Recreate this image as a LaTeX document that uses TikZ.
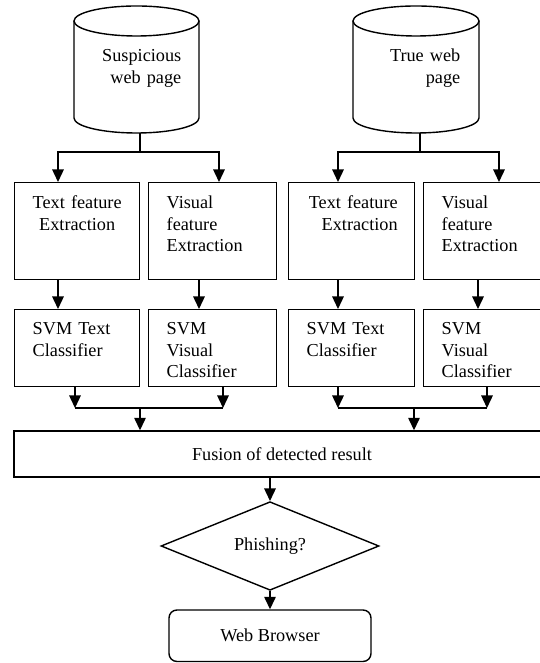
\documentclass[tikz,border=0pt]{standalone}
\usepackage{fontspec}
\setmainfont{Liberation Serif}
\usetikzlibrary{arrows.meta,shapes.geometric,calc}

\tikzset{
	box/.style={draw, anchor=north west, inner ysep=0pt},
	rowone/.style={text height=26pt, text depth=71pt},
	rowtwo/.style={text height=25pt, text depth=52pt},
	dbtext/.style={anchor=base east, inner sep=0pt, text width=110pt, align=right},
	decision/.style={diamond, draw, minimum width=218pt, minimum height=72pt, inner sep=0pt},
	terminal/.style={rectangle, draw, rounded corners=8pt, minimum width=202pt, minimum height=51.5pt},
	arr/.style={-{Triangle[width=11.5pt,length=12.5pt]}},
}

\begin{document}
\begin{tikzpicture}[x=1pt, y=1pt, line width=1.4pt, font=\fontsize{18.25pt}{21.5pt}\selectfont]
		\useasboundingbox (0,0) rectangle (539,663);
		%Databases
		\draw (136.5,642) ellipse [x radius=62.5, y radius=15];
		\draw (74,642) -- (74,545) arc[start angle=180, end angle=360, x radius=62.5, y radius=15] -- (199,642);
		\draw (416,642) ellipse [x radius=63, y radius=15];
		\draw (353,642) -- (353,545) arc[start angle=180, end angle=360, x radius=63, y radius=15] -- (479,642);
		\node[dbtext] (susp) at (182,601) {Suspicious\\web page};
		\node[dbtext] (true) at (461,601) {True web\\page};
		\coordinate (suspout) at (140,530);
		\coordinate (suspfork) at (140,511);
		\coordinate (trueout) at (420,530);
		\coordinate (truefork) at (420,511);
		%Feature extraction
		\node[box, rowone, inner xsep=5pt, text width=115pt, align=center] (textex1) at (14,481) {Text feature\\Extraction};
		\node[box, rowone, inner xsep=18pt, text width=92pt, align=left] (visex1) at (148,481) {Visual\\feature\\Extraction};
		\node[box, rowone, inner xsep=17pt, text width=92pt, align=right] (textex2) at (288,481) {Text feature\\Extraction};
		\node[box, rowone, inner xsep=18pt, text width=84pt, align=left] (visex2) at (423,481) {Visual\\feature\\Extraction};
		%Classifiers
		\node[box, rowtwo, inner xsep=18pt, text width=89pt, align=left] (textsvm1) at (14,354) {SVM Text\\Classifier};
		\node[box, rowtwo, inner xsep=18pt, text width=92pt, align=left] (vissvm1) at (148,354) {SVM\\Visual\\Classifier};
		\node[box, rowtwo, inner xsep=18pt, text width=90pt, align=left] (textsvm2) at (288,354) {SVM Text\\Classifier};
		\node[box, rowtwo, inner xsep=18pt, text width=84pt, align=left] (vissvm2) at (423,354) {SVM\\Visual\\Classifier};
		%Fusion and decision
		\node[draw, minimum width=536pt, minimum height=46pt] (fusion) at (282,209) {Fusion of detected result};
		\node[decision] (phish) at (270,117) {Phishing?};
		\node[terminal] (browser) at (270,27.25) {Web Browser};
		\coordinate (ljoinl) at (75,255);
		\coordinate (ljoinr) at (223,255);
		\coordinate (lmerge) at (140,255);
		\coordinate (rjoinl) at (338,255);
		\coordinate (rjoinr) at (487,255);
		\coordinate (rmerge) at (414,255);
		%Arrows
		\draw (suspout) -- (suspfork);
		\draw[arr] (suspfork) -| ([xshift=44pt]textex1.north west);
		\draw[arr] (suspfork) -| ([xshift=71pt]visex1.north west);
		\draw (trueout) -- (truefork);
		\draw[arr] (truefork) -| ([xshift=50pt]textex2.north west);
		\draw[arr] (truefork) -| ([xshift=76pt]visex2.north west);
		\draw[arr] ([xshift=44pt]textex1.south west) -- ([xshift=44pt]textsvm1.north west);
		\draw[arr] ([xshift=51pt]visex1.south west) -- ([xshift=51pt]vissvm1.north west);
		\draw[arr] ([xshift=50pt]textex2.south west) -- ([xshift=50pt]textsvm2.north west);
		\draw[arr] ([xshift=55pt]visex2.south west) -- ([xshift=55pt]vissvm2.north west);
		\draw[arr] ([xshift=61pt]textsvm1.south west) -- (ljoinl);
		\draw[arr] ([xshift=75pt]vissvm1.south west) -- (ljoinr);
		\draw (ljoinl) -- (ljoinr);
		\draw[arr] ([xshift=50pt]textsvm2.south west) -- (rjoinl);
		\draw[arr] ([xshift=64pt]vissvm2.south west) -- (rjoinr);
		\draw (rjoinl) -- (rjoinr);
		\draw[arr] (lmerge) -- (lmerge |- fusion.north);
		\draw[arr] (rmerge) -- (rmerge |- fusion.north);
		\draw[arr] (phish.north |- fusion.south) -- (phish.north);
		\draw[arr] (phish.south) -- (browser.north);
	\end{tikzpicture}
\end{document}
